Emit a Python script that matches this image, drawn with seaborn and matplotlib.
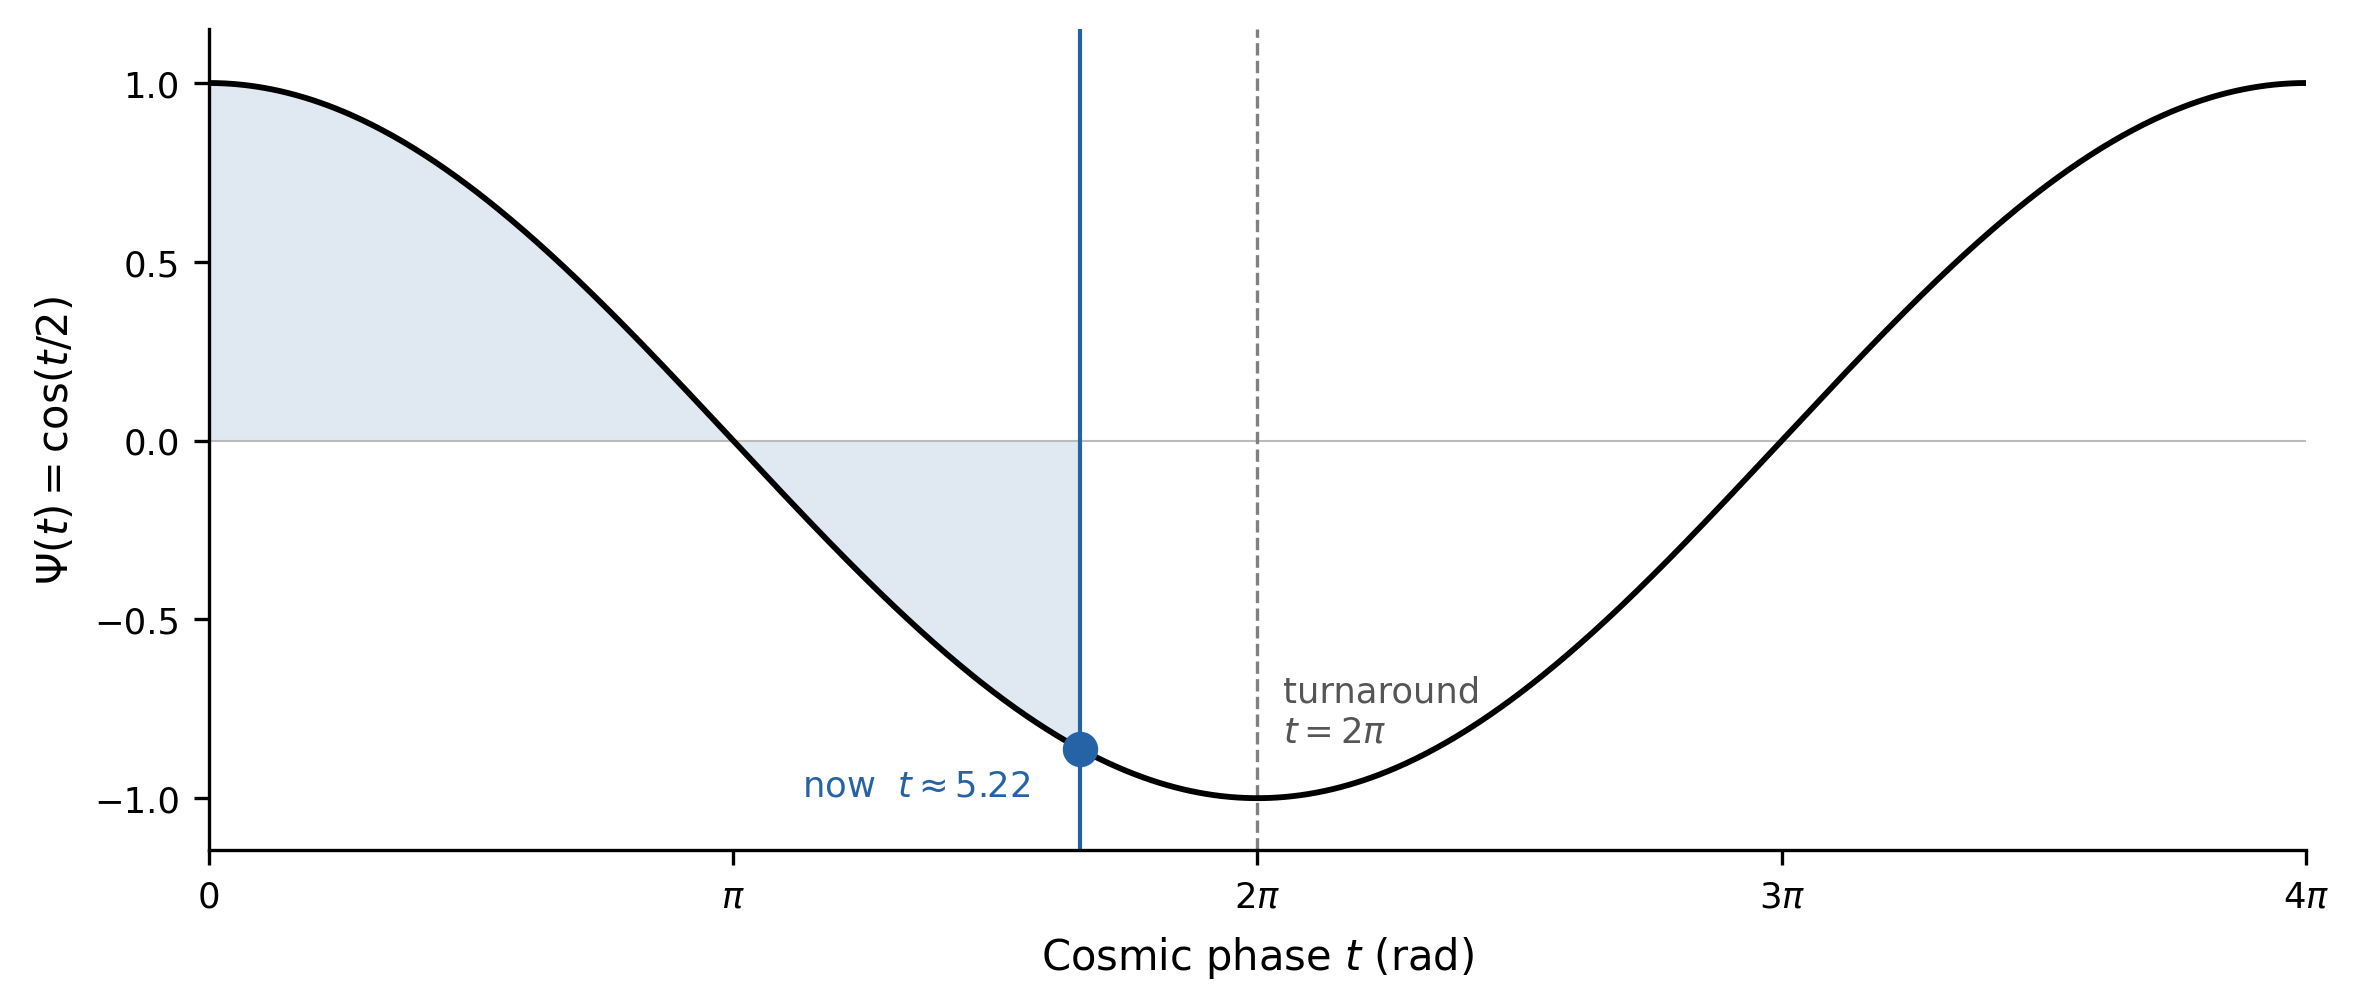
import numpy as np
import pandas as pd
import matplotlib
matplotlib.use("Agg")
import matplotlib.pyplot as plt
import seaborn as sns

# datos de la curva: la fase t y la función que da la etiqueta del eje, Psi(t) = cos(t/2)
t_start = 0.0
t_end = 4 * np.pi
t_now = 5.22
t_turn = 2 * np.pi
tick_pos = [0, np.pi, 2 * np.pi, 3 * np.pi, 4 * np.pi]
tick_labels = ["0", r"$\pi$", r"$2\pi$", r"$3\pi$", r"$4\pi$"]
y_ticks = [-1.0, -0.5, 0.0, 0.5, 1.0]

t = np.linspace(t_start, t_end, 800)
df = pd.DataFrame({"t": t, "psi": np.cos(t / 2)})
psi_now = np.cos(t_now / 2)

sns.set_style("ticks", {"axes.edgecolor": "black", "xtick.color": "black",
                        "ytick.color": "black", "text.color": "black",
                        "axes.labelcolor": "black"})
plt.rcParams["font.family"] = ["DejaVu Sans"]
plt.rcParams["font.size"] = 8.5

blue = "#2563a6"

fig, ax = plt.subplots(figsize=(7.87, 3.363), dpi=300)

# relleno entre 0 y el presente
mask = df["t"] <= t_now
ax.fill_between(df["t"][mask], df["psi"][mask], 0, color=blue, alpha=0.14, linewidth=0)
ax.axhline(0, color="#bbbbbb", linewidth=0.5, zorder=1)

sns.lineplot(data=df, x="t", y="psi", ax=ax, color="black", linewidth=1.4, zorder=3)

ax.axvline(t_now, color=blue, linewidth=1.0, zorder=2)
ax.axvline(t_turn, color="gray", linewidth=0.8, linestyle="--", zorder=2)
ax.plot([t_now], [psi_now], "o", color=blue, markersize=7.5, zorder=4)

ax.text(t_now - 0.3, -0.965, r"now  $t \approx 5.22$", color=blue,
        fontsize=8.5, ha="right", va="center")
ax.text(t_turn + 0.15, -0.655, "turnaround\n$t = 2\\pi$", color="#555555",
        fontsize=8.5, ha="left", va="top", linespacing=1.2)

ax.set_xlim(t_start, t_end)
ax.set_ylim(-1.145, 1.15)
ax.set_xticks(tick_pos)
ax.set_xticklabels(tick_labels)
ax.set_yticks(y_ticks)
ax.tick_params(labelsize=8.5)
ax.set_xlabel(r"Cosmic phase $t$ (rad)", fontsize=10, labelpad=5)
ax.set_ylabel(r"$\Psi(t) = \cos(t/2)$", fontsize=10)
sns.despine(ax=ax)

fig.subplots_adjust(left=0.0885, right=0.9767, bottom=0.1566, top=0.970)
fig.savefig("out.png", dpi=300)
